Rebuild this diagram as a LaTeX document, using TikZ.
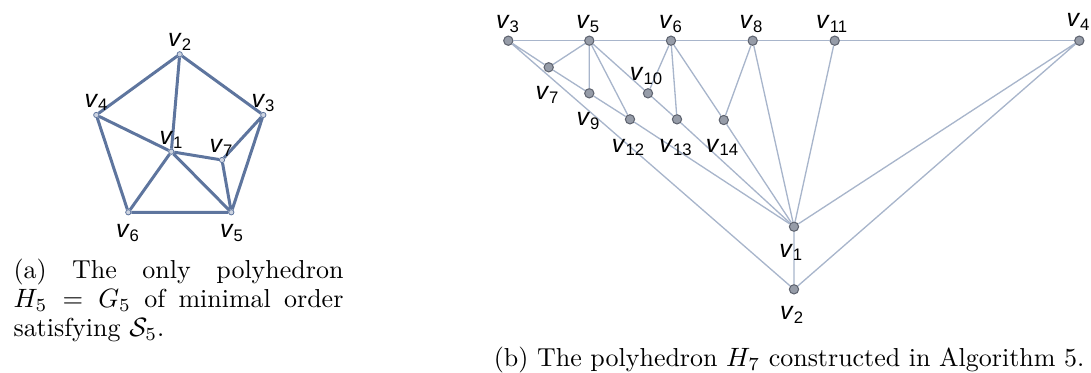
\documentclass[tikz,border=0pt]{standalone}
\usepackage{fontspec}
\newfontfamily\lblfont{Liberation Sans}
\usetikzlibrary{positioning}

\definecolor{ledgecol}{RGB}{94,117,158}
\definecolor{lvertcol}{RGB}{205,212,225}
\definecolor{redgecol}{RGB}{168,181,203}
\definecolor{rvertcol}{RGB}{150,156,168}
\definecolor{rrimcol}{RGB}{95,100,112}

\newcommand{\vl}[1]{\textit{v}\raisebox{-1.3pt}{\fontsize{6.3}{6.3}\selectfont #1}}

\begin{document}
\begin{tikzpicture}[x=0.37736pt, y=-0.37736pt,
  ledge/.style={draw=ledgecol, line width=1.13pt},
  lvert/.style={circle, draw=ledgecol, fill=lvertcol, line width=0.3pt, inner sep=0pt, minimum size=2pt},
  redge/.style={draw=redgecol, line width=0.5pt},
  rvert/.style={circle, draw=rrimcol, fill=rvertcol, line width=0.4pt, inner sep=0pt, minimum size=3.5pt},
  vlbl/.style={font=\lblfont\fontsize{9.4}{9.4}\selectfont, inner sep=0pt},
  capt/.style={font=\fontsize{9.8}{11.1}\selectfont, inner sep=0pt}]
  \useasboundingbox (0,0) rectangle (1091,373);

  % (a) H_5 = G_5
  \node[lvert] (a1) at (171.3,151.7) {};
  \node[lvert] (a2) at (179.7,54.3) {};
  \node[lvert] (a3) at (263.3,115) {};
  \node[lvert] (a4) at (96.3,115) {};
  \node[lvert] (a5) at (231.3,212.3) {};
  \node[lvert] (a6) at (128.3,212.3) {};
  \node[lvert] (a7) at (222,160) {};
  \draw[ledge] (a2) -- (a4) (a2) -- (a3) (a2) -- (a1) (a4) -- (a1) (a4) -- (a6) (a6) -- (a5);
  \draw[ledge] (a6) -- (a1) (a1) -- (a5) (a1) -- (a7) (a7) -- (a5) (a7) -- (a3) (a3) -- (a5);
  \node[vlbl] (la1) at (171,140) {\vl{1}};
  \node[vlbl] (la2) at (179.7,41.7) {\vl{2}};
  \node[vlbl] (la3) at (263,103) {\vl{3}};
  \node[vlbl] (la4) at (96,102.5) {\vl{4}};
  \node[vlbl] (la5) at (231.5,233) {\vl{5}};
  \node[vlbl] (la6) at (127.5,233) {\vl{6}};
  \node[vlbl] (la7) at (221,148) {\vl{7}};

  % (b) H_7
  \node[rvert] (b1) at (794,226.7) {};
  \node[rvert] (b2) at (794,289.3) {};
  \node[rvert] (b3) at (508.3,40.7) {};
  \node[rvert] (b4) at (1079.3,40.7) {};
  \node[rvert] (b5) at (589.3,40.7) {};
  \node[rvert] (b6) at (671,40.7) {};
  \node[rvert] (b7) at (548.7,67.3) {};
  \node[rvert] (b8) at (752.7,40.7) {};
  \node[rvert] (b9) at (589.3,93.3) {};
  \node[rvert] (b10) at (648,93.3) {};
  \node[rvert] (b11) at (834.7,40.7) {};
  \node[rvert] (b12) at (630,119.3) {};
  \node[rvert] (b13) at (677,119.3) {};
  \node[rvert] (b14) at (723.8,120) {};
  \draw[redge] (b3) -- (b5) (b5) -- (b6) (b6) -- (b8) (b8) -- (b11) (b11) -- (b4);
  \draw[redge] (b3) -- (b7) (b7) -- (b5) (b7) -- (b9) (b9) -- (b12) (b12) -- (b1) (b3) -- (b2);
  \draw[redge] (b5) -- (b9) (b5) -- (b12) (b5) -- (b10) (b10) -- (b13) (b13) -- (b1);
  \draw[redge] (b6) -- (b10) (b6) -- (b13) (b6) -- (b14) (b14) -- (b1);
  \draw[redge] (b8) -- (b14) (b8) -- (b1) (b11) -- (b1) (b4) -- (b1) (b4) -- (b2) (b1) -- (b2);
  \node[vlbl] (lb1) at (790.8,252.5) {\vl{1}};
  \node[vlbl] (lb2) at (791.7,315) {\vl{2}};
  \node[vlbl] (lb3) at (507.5,24) {\vl{3}};
  \node[vlbl] (lb4) at (1078,22) {\vl{4}};
  \node[vlbl] (lb5) at (587.8,24) {\vl{5}};
  \node[vlbl] (lb6) at (670.5,24) {\vl{6}};
  \node[vlbl] (lb7) at (547,95) {\vl{7}};
  \node[vlbl] (lb8) at (751,24) {\vl{8}};
  \node[vlbl] (lb9) at (588,121) {\vl{9}};
  \node[vlbl] (lb10) at (646,76) {\vl{10}};
  \node[vlbl] (lb11) at (831.7,24) {\vl{11}};
  \node[vlbl] (lb12) at (628,147.5) {\vl{12}};
  \node[vlbl] (lb13) at (675.5,147.5) {\vl{13}};
  \node[vlbl] (lb14) at (722,147.5) {\vl{14}};

  % captions
  \node[capt, text width=124.5pt, align=justify, anchor=north west] (capa) at (13,258)
    {(a) The only polyhedron\linebreak $H_5 = G_5$ of minimal order\linebreak satisfying $\mathcal{S}_5$.};
  \node[capt, anchor=base west] (capb) at (493.3,366.7)
    {(b) The polyhedron $H_7$ constructed in Algorithm 5.};
\end{tikzpicture}
\end{document}
